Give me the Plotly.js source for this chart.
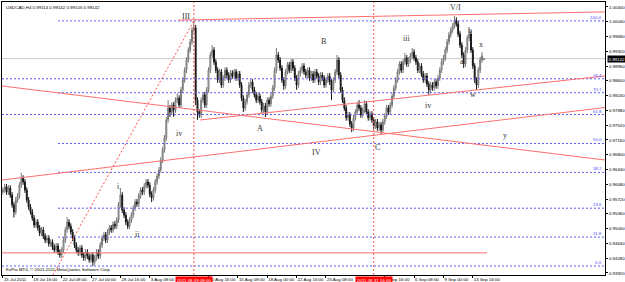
<!DOCTYPE html>
<html><head><meta charset="utf-8">
<script src="https://cdn.plot.ly/plotly-3.0.1.min.js"></script>
<style>html,body{margin:0;padding:0;background:#fff;}#chart{width:625px;height:282px;}</style>
</head><body><div id="chart"></div>
<script>
const header = 'USDCAD,H4 0.99114 0.99142 0.99105 0.99142';
const footer = 'FxPro MT4, \u00a9 2001-2011 MetaQuotes Software Corp.';

const open = [0.9590,0.9594,0.9602,0.9589,0.9599,0.9582,0.9558,0.9541,0.9570,0.9580,
0.9606,0.9623,0.9614,0.9594,0.9570,0.9553,0.9541,0.9526,0.9509,0.9516,
0.9502,0.9489,0.9497,0.9482,0.9472,0.9477,0.9463,0.9467,0.9455,0.9448,
0.9458,0.9443,0.9436,0.9448,0.9472,0.9497,0.9516,0.9506,0.9492,0.9477,
0.9460,0.9448,0.9441,0.9453,0.9436,0.9429,0.9443,0.9433,0.9424,0.9436,
0.9419,0.9429,0.9443,0.9433,0.9460,0.9477,0.9485,0.9472,0.9492,0.9502,
0.9497,0.9511,0.9506,0.9521,0.9558,0.9582,0.9545,0.9533,0.9516,0.9506,
0.9521,0.9533,0.9550,0.9565,0.9560,0.9580,0.9594,0.9589,0.9604,0.9614,
0.9606,0.9584,0.9575,0.9594,0.9614,0.9628,0.9643,0.9667,0.9692,0.9721,
0.9765,0.9794,0.9784,0.9801,0.9789,0.9813,0.9818,0.9801,0.9838,0.9862,
0.9886,0.9911,0.9935,0.9955,0.9984,0.9989,0.9813,0.9784,0.9777,0.9813,
0.9826,0.9801,0.9838,0.9886,0.9923,0.9935,0.9906,0.9886,0.9862,0.9882,
0.9850,0.9867,0.9886,0.9874,0.9862,0.9879,0.9872,0.9882,0.9867,0.9877,
0.9850,0.9818,0.9794,0.9809,0.9826,0.9850,0.9857,0.9838,0.9826,0.9813,
0.9823,0.9809,0.9789,0.9799,0.9784,0.9813,0.9804,0.9823,0.9843,0.9886,
0.9923,0.9911,0.9891,0.9862,0.9848,0.9882,0.9899,0.9886,0.9906,0.9891,
0.9867,0.9850,0.9877,0.9886,0.9896,0.9882,0.9874,0.9886,0.9867,0.9877,
0.9862,0.9882,0.9872,0.9857,0.9874,0.9867,0.9850,0.9862,0.9872,0.9857,
0.9838,0.9862,0.9882,0.9911,0.9874,0.9838,0.9813,0.9794,0.9770,0.9777,
0.9755,0.9745,0.9770,0.9784,0.9801,0.9794,0.9777,0.9789,0.9804,0.9784,
0.9770,0.9779,0.9765,0.9750,0.9760,0.9745,0.9753,0.9740,0.9760,0.9774,
0.9794,0.9784,0.9801,0.9823,0.9843,0.9862,0.9882,0.9901,0.9886,0.9906,
0.9916,0.9901,0.9911,0.9921,0.9930,0.9916,0.9906,0.9886,0.9896,0.9877,
0.9862,0.9872,0.9852,0.9838,0.9850,0.9843,0.9857,0.9848,0.9867,0.9886,
0.9906,0.9916,0.9935,0.9955,0.9972,0.9984,0.9994,1.0008,0.9999,0.9974,
0.9947,0.9923,0.9901,0.9935,0.9964,0.9974,0.9935,0.9896,0.9862,0.9850,
0.9886,0.9911,0.99114];

const high = [0.9601,0.9609,0.9609,0.9606,0.9606,0.9589,0.9565,0.9577,0.9587,0.9613,
0.9636,0.9630,0.9621,0.9601,0.9577,0.9560,0.9548,0.9533,0.9523,0.9523,
0.9509,0.9504,0.9504,0.9489,0.9484,0.9484,0.9474,0.9474,0.9462,0.9465,
0.9465,0.9450,0.9455,0.9479,0.9504,0.9528,0.9523,0.9513,0.9499,0.9484,
0.9467,0.9455,0.9460,0.9460,0.9443,0.9450,0.9450,0.9440,0.9443,0.9443,
0.9436,0.9450,0.9450,0.9467,0.9484,0.9492,0.9492,0.9499,0.9509,0.9509,
0.9518,0.9518,0.9528,0.9565,0.9599,0.9589,0.9552,0.9540,0.9523,0.9528,
0.9540,0.9557,0.9572,0.9572,0.9587,0.9601,0.9601,0.9611,0.9621,0.9621,
0.9613,0.9591,0.9601,0.9621,0.9635,0.9650,0.9674,0.9699,0.9728,0.9772,
0.9813,0.9801,0.9808,0.9808,0.9820,0.9830,0.9825,0.9845,0.9869,0.9893,
0.9918,0.9942,0.9962,0.9991,1.0006,0.9996,0.9820,0.9791,0.9820,0.9833,
0.9833,0.9845,0.9893,0.9930,0.9947,0.9942,0.9913,0.9893,0.9889,0.9889,
0.9874,0.9893,0.9893,0.9881,0.9886,0.9886,0.9889,0.9889,0.9884,0.9884,
0.9857,0.9825,0.9816,0.9833,0.9857,0.9864,0.9864,0.9845,0.9833,0.9830,
0.9830,0.9816,0.9806,0.9806,0.9820,0.9820,0.9830,0.9850,0.9893,0.9940,
0.9930,0.9918,0.9898,0.9869,0.9889,0.9906,0.9906,0.9913,0.9913,0.9898,
0.9874,0.9884,0.9893,0.9903,0.9903,0.9889,0.9893,0.9893,0.9884,0.9884,
0.9889,0.9889,0.9879,0.9881,0.9881,0.9874,0.9869,0.9879,0.9879,0.9864,
0.9869,0.9889,0.9923,0.9918,0.9881,0.9845,0.9820,0.9801,0.9784,0.9784,
0.9762,0.9777,0.9791,0.9808,0.9813,0.9801,0.9796,0.9813,0.9811,0.9791,
0.9786,0.9786,0.9772,0.9767,0.9767,0.9760,0.9760,0.9767,0.9781,0.9801,
0.9801,0.9808,0.9830,0.9850,0.9869,0.9889,0.9908,0.9908,0.9913,0.9928,
0.9923,0.9918,0.9928,0.9940,0.9937,0.9923,0.9913,0.9903,0.9903,0.9884,
0.9879,0.9879,0.9859,0.9857,0.9857,0.9864,0.9864,0.9874,0.9893,0.9913,
0.9923,0.9942,0.9962,0.9979,0.9991,1.0001,1.0018,1.0015,1.0006,0.9981,
0.9954,0.9930,0.9942,0.9971,0.9984,0.9981,0.9942,0.9903,0.9869,0.9893,
0.9918,0.9930,0.99142];

const low = [0.9583,0.9587,0.9582,0.9582,0.9575,0.9551,0.9527,0.9534,0.9563,0.9573,
0.9599,0.9607,0.9587,0.9563,0.9546,0.9534,0.9519,0.9502,0.9502,0.9495,
0.9482,0.9482,0.9475,0.9465,0.9465,0.9456,0.9456,0.9448,0.9441,0.9441,
0.9436,0.9429,0.9429,0.9441,0.9465,0.9490,0.9499,0.9485,0.9470,0.9453,
0.9441,0.9434,0.9434,0.9429,0.9422,0.9422,0.9426,0.9417,0.9417,0.9409,
0.9412,0.9422,0.9426,0.9426,0.9453,0.9470,0.9465,0.9465,0.9485,0.9490,
0.9490,0.9499,0.9499,0.9514,0.9551,0.9538,0.9526,0.9509,0.9499,0.9499,
0.9514,0.9526,0.9543,0.9553,0.9553,0.9573,0.9582,0.9582,0.9597,0.9599,
0.9577,0.9565,0.9568,0.9587,0.9607,0.9621,0.9636,0.9660,0.9685,0.9714,
0.9758,0.9772,0.9777,0.9772,0.9782,0.9806,0.9794,0.9794,0.9831,0.9855,
0.9879,0.9904,0.9928,0.9948,0.9977,0.9801,0.9765,0.9770,0.9770,0.9806,
0.9794,0.9794,0.9831,0.9879,0.9916,0.9899,0.9879,0.9855,0.9855,0.9843,
0.9843,0.9860,0.9867,0.9855,0.9855,0.9865,0.9865,0.9860,0.9860,0.9843,
0.9811,0.9784,0.9787,0.9802,0.9819,0.9843,0.9831,0.9819,0.9806,0.9806,
0.9802,0.9782,0.9782,0.9772,0.9777,0.9797,0.9797,0.9816,0.9836,0.9879,
0.9904,0.9884,0.9855,0.9838,0.9841,0.9875,0.9879,0.9879,0.9884,0.9860,
0.9838,0.9843,0.9870,0.9879,0.9875,0.9867,0.9867,0.9860,0.9860,0.9855,
0.9855,0.9865,0.9850,0.9850,0.9860,0.9843,0.9843,0.9855,0.9850,0.9813,
0.9831,0.9855,0.9875,0.9867,0.9831,0.9806,0.9787,0.9763,0.9763,0.9748,
0.9735,0.9738,0.9763,0.9777,0.9787,0.9770,0.9770,0.9782,0.9777,0.9763,
0.9763,0.9758,0.9743,0.9743,0.9738,0.9738,0.9731,0.9733,0.9753,0.9767,
0.9777,0.9777,0.9794,0.9816,0.9836,0.9855,0.9875,0.9879,0.9879,0.9899,
0.9894,0.9894,0.9904,0.9914,0.9909,0.9899,0.9879,0.9879,0.9870,0.9855,
0.9855,0.9845,0.9826,0.9831,0.9836,0.9836,0.9841,0.9841,0.9860,0.9879,
0.9899,0.9909,0.9928,0.9948,0.9965,0.9977,0.9987,0.9992,0.9967,0.9940,
0.9916,0.9891,0.9894,0.9928,0.9957,0.9928,0.9889,0.9855,0.9838,0.9843,
0.9879,0.9904,0.99105];

const close = [0.9594,0.9602,0.9589,0.9599,0.9582,0.9558,0.9541,0.9570,0.9580,0.9606,
0.9623,0.9614,0.9594,0.9570,0.9553,0.9541,0.9526,0.9509,0.9516,0.9502,
0.9489,0.9497,0.9482,0.9472,0.9477,0.9463,0.9467,0.9455,0.9448,0.9458,
0.9443,0.9436,0.9448,0.9472,0.9497,0.9516,0.9506,0.9492,0.9477,0.9460,
0.9448,0.9441,0.9453,0.9436,0.9429,0.9443,0.9433,0.9424,0.9436,0.9419,
0.9429,0.9443,0.9433,0.9460,0.9477,0.9485,0.9472,0.9492,0.9502,0.9497,
0.9511,0.9506,0.9521,0.9558,0.9582,0.9545,0.9533,0.9516,0.9506,0.9521,
0.9533,0.9550,0.9565,0.9560,0.9580,0.9594,0.9589,0.9604,0.9614,0.9606,
0.9584,0.9575,0.9594,0.9614,0.9628,0.9643,0.9667,0.9692,0.9721,0.9765,
0.9794,0.9784,0.9801,0.9789,0.9813,0.9818,0.9801,0.9838,0.9862,0.9886,
0.9911,0.9935,0.9955,0.9984,0.9989,0.9813,0.9784,0.9777,0.9813,0.9826,
0.9801,0.9838,0.9886,0.9923,0.9935,0.9906,0.9886,0.9862,0.9882,0.9850,
0.9867,0.9886,0.9874,0.9862,0.9879,0.9872,0.9882,0.9867,0.9877,0.9850,
0.9818,0.9794,0.9809,0.9826,0.9850,0.9857,0.9838,0.9826,0.9813,0.9823,
0.9809,0.9789,0.9799,0.9784,0.9813,0.9804,0.9823,0.9843,0.9886,0.9923,
0.9911,0.9891,0.9862,0.9848,0.9882,0.9899,0.9886,0.9906,0.9891,0.9867,
0.9850,0.9877,0.9886,0.9896,0.9882,0.9874,0.9886,0.9867,0.9877,0.9862,
0.9882,0.9872,0.9857,0.9874,0.9867,0.9850,0.9862,0.9872,0.9857,0.9838,
0.9862,0.9882,0.9911,0.9874,0.9838,0.9813,0.9794,0.9770,0.9777,0.9755,
0.9745,0.9770,0.9784,0.9801,0.9794,0.9777,0.9789,0.9804,0.9784,0.9770,
0.9779,0.9765,0.9750,0.9760,0.9745,0.9753,0.9740,0.9760,0.9774,0.9794,
0.9784,0.9801,0.9823,0.9843,0.9862,0.9882,0.9901,0.9886,0.9906,0.9916,
0.9901,0.9911,0.9921,0.9930,0.9916,0.9906,0.9886,0.9896,0.9877,0.9862,
0.9872,0.9852,0.9838,0.9850,0.9843,0.9857,0.9848,0.9867,0.9886,0.9906,
0.9916,0.9935,0.9955,0.9972,0.9984,0.9994,1.0008,0.9999,0.9974,0.9947,
0.9923,0.9901,0.9935,0.9964,0.9974,0.9935,0.9896,0.9862,0.9850,0.9886,
0.9911,0.9921,0.99142];

const tickBars = [0,16,32,48,64,80,112,128,144,160,176,208,224,240,256];
const tickLabels = ['15 Jul 2011','19 Jul 16:00','22 Jul 08:00','27 Jul 00:00','29 Jul 16:00','3 Aug 08:00','10 Aug 16:00','15 Aug 08:00','18 Aug 00:00','22 Aug 16:00','25 Aug 08:00','1 Sep 16:00','6 Sep 08:00','9 Sep 00:00','13 Sep 16:00'];
const priceTicks = [0.9392,0.9428,0.9464,0.9500,0.9536,0.9572,0.9608,0.9644,0.9680,0.9716,0.9752,0.9788,0.9824,0.9860,0.9896,0.9932,0.9968,1.0004,1.0040];
const lastPrice = 0.99142;

const fibLevels = [0.0, 11.8, 23.6, 38.2, 50.0, 61.8, 70.7, 76.4, 100.0];
const fibFullWidth = [true, false, false, false, false, true, false, true, false];
const fibLowPrice = 0.9409, fibHighPrice = 1.0006, fibLowBar = 30, fibHighBar = 104;
const fibDiagStartBar = 27.3;

const trendX0 = [95.4, -0.5, -0.5, 107.4, -0.5];
const trendY0 = [1.0008, 0.98475, 0.96185, 0.97647, 0.9441];
const trendX1 = [328, 328, 328, 328, 263.7];
const trendY1 = [1.0028, 0.96672, 0.97951, 0.98719, 0.9441];

const vlineBars = [104, 202];
const vlineLabels = ['2011.08.09 08:00', '2011.08.31 16:00'];

const waveText = ['III','B','V/I','iii','b','x','a','iv','w','y','A','IV','C','iv','i','ii'];
const waveBar = [99.7,174.4,246.3,220.1,254.5,260.5,250.1,231.6,256.1,273.5,140.1,170.6,204.3,95.9,62.7,73.1];
const wavePrice = [1.0018,0.99547,1.00375,0.99620,0.99815,0.99474,0.99060,0.97988,0.98256,0.97281,0.97428,0.96843,0.96989,0.97306,0.96015,0.94846];

const XMIN = -0.5, XMAX = 328, YMIN = 0.93871, YMAX = 1.00521;
const idx = close.map((_, i) => i);
const small = {family: 'Liberation Sans, Arial, sans-serif', size: 4.4, color: '#000'};

const fibPrice = lv => fibLowPrice + lv / 100 * (fibHighPrice - fibLowPrice);
const diagSlope = (fibHighPrice - fibLowPrice) / (fibHighBar - fibLowBar);

const shapes = [];
shapes.push({type:'line', xref:'x', yref:'y', x0:XMIN, x1:XMAX, y0:lastPrice, y1:lastPrice, line:{color:'#c8c8c8', width:1}, layer:'below'});
fibLevels.forEach((lv, i) => {
  const p = fibPrice(lv);
  shapes.push({type:'line', xref:'x', yref:'y', x0: fibFullWidth[i] ? XMIN : fibLowBar, x1: XMAX, y0:p, y1:p, line:{color:'#5a5aff', width:1, dash:'2px,2px'}});
});
shapes.push({type:'line', xref:'x', yref:'y', x0:fibDiagStartBar, y0:fibLowPrice - (fibLowBar - fibDiagStartBar) * diagSlope, x1:fibHighBar, y1:fibHighPrice, line:{color:'#ff5050', width:1, dash:'2px,2px'}});
trendX0.forEach((_, i) => {
  shapes.push({type:'line', xref:'x', yref:'y', x0:trendX0[i], y0:trendY0[i], x1:trendX1[i], y1:trendY1[i], line:{color:'#ff6e6e', width:1}});
});
vlineBars.forEach(b => {
  shapes.push({type:'line', xref:'x', yref:'paper', x0:b, x1:b, y0:0, y1:1, line:{color:'#ff5050', width:1, dash:'2px,2px'}});
});

const annotations = [];
fibLevels.forEach(lv => {
  annotations.push({xref:'paper', x:1, xanchor:'right', xshift:-1, yref:'y', y:fibPrice(lv), yanchor:'bottom', yshift:-1, text:lv.toFixed(1), showarrow:false, font:{family:'Liberation Sans, Arial, sans-serif', size:4.4, color:'#4a4aff'}});
});
waveText.forEach((t, i) => {
  annotations.push({xref:'x', yref:'y', x:waveBar[i], y:wavePrice[i], text:t, showarrow:false, font:{family:'Liberation Serif, Times New Roman, serif', size:8, color:'#333'}});
});
vlineBars.forEach((b, i) => {
  annotations.push({xref:'x', x:b, xanchor:'center', yref:'paper', y:0, yanchor:'top', yshift:-1, text:vlineLabels[i], showarrow:false, bgcolor:'#ff0000', borderpad:1, font:{family:'Liberation Sans, Arial, sans-serif', size:4.4, color:'#fff'}});
});
annotations.push({xref:'paper', x:1, xanchor:'left', xshift:2, yref:'y', y:lastPrice, yanchor:'middle', text:lastPrice.toFixed(5), showarrow:false, bgcolor:'#000', borderpad:0.5, font:{family:'Liberation Sans, Arial, sans-serif', size:4.4, color:'#fff'}});
annotations.push({xref:'paper', x:0, xanchor:'left', xshift:2, yref:'paper', y:1, yanchor:'top', yshift:-1, text:header, showarrow:false, font:small});
annotations.push({xref:'paper', x:0, xanchor:'left', xshift:2, yref:'paper', y:0, yanchor:'bottom', yshift:1, text:footer, showarrow:false, font:small});

const trace = {
  type:'candlestick', x:idx, open:open, high:high, low:low, close:close,
  increasing:{line:{color:'#777', width:1}, fillcolor:'#e2e2e2'},
  decreasing:{line:{color:'#161616', width:1}, fillcolor:'#161616'},
  whiskerwidth:0, hoverinfo:'skip'
};

const layout = {
  width:625, height:282, margin:{l:2, r:20, t:2, b:7, pad:0},
  paper_bgcolor:'#fff', plot_bgcolor:'#fff', showlegend:false,
  xaxis:{range:[XMIN, XMAX], tickvals:tickBars, ticktext:tickLabels, tickangle:0, ticklabelposition:'outside right',
    tickfont:small, ticks:'outside', ticklen:2, tickcolor:'#000', showgrid:false, zeroline:false,
    showline:true, linecolor:'#000', linewidth:1, mirror:true, rangeslider:{visible:false}, fixedrange:true},
  yaxis:{side:'right', range:[YMIN, YMAX], tickvals:priceTicks, tickformat:'.5f', tickfont:small,
    ticks:'outside', ticklen:2, tickcolor:'#000', showgrid:false, zeroline:false, showline:true,
    linecolor:'#000', linewidth:1, mirror:true, fixedrange:true},
  shapes:shapes, annotations:annotations
};

Plotly.newPlot('chart', [trace], layout, {displayModeBar:false, staticPlot:true});
</script></body></html>
